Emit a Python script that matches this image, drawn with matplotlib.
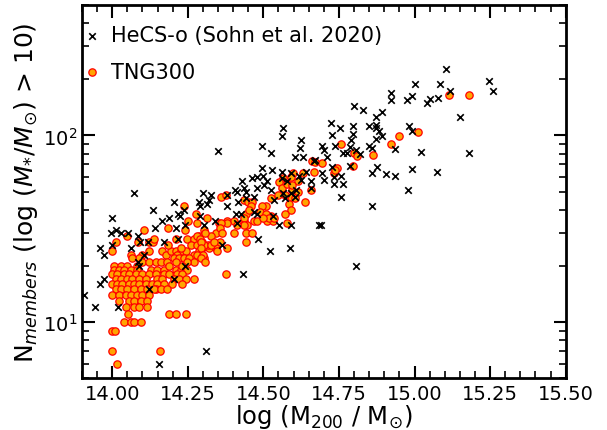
import matplotlib
matplotlib.use('Agg')
import matplotlib.pyplot as plt
from matplotlib.ticker import MultipleLocator, FormatStrFormatter

# HeCS-o clusters: log M200 and number of members
hecs_logm = [
    14.073, 14.205, 14.238, 14.288, 14.000, 14.136, 14.166, 14.189, 14.219, 14.225,
    14.242, 14.291, 14.013, 13.997, 14.030, 14.053, 14.142, 14.212, 14.086, 14.093,
    14.119, 14.172, 14.219, 13.960, 14.000, 14.063, 13.974, 14.106,
    14.086, 14.089, 14.242, 13.974, 13.960, 14.205, 13.907, 14.123, 13.944, 14.020,
    14.156, 14.311,
    14.566, 14.563, 14.626, 14.622, 14.351, 14.497, 14.526, 14.603, 14.632, 14.669,
    14.497, 14.530, 14.560, 14.593, 14.619, 14.642, 14.464, 14.480, 14.500, 14.513,
    14.560, 14.579, 14.626, 14.659, 14.430, 14.437, 14.407, 14.414, 14.480, 14.503,
    14.526, 14.566, 14.593, 14.609, 14.656, 14.301, 14.328, 14.381, 14.444, 14.470,
    14.321, 14.315, 14.291, 14.381, 14.417, 14.444, 14.536, 14.570, 14.603, 14.470,
    14.427, 14.411, 14.480, 14.533, 14.341, 14.305, 14.553, 14.593, 14.685, 14.414,
    14.483, 14.364, 14.589, 14.523, 14.434,
    15.003, 15.083, 14.921, 14.921, 14.974, 14.990, 15.040, 15.050, 15.076, 14.801,
    14.828, 14.891, 14.874, 14.725, 14.755, 14.795, 14.848, 14.874, 14.874, 14.881,
    14.795, 14.894, 14.871, 14.791, 14.728, 14.983, 14.990, 14.738, 14.695, 14.702,
    14.785, 14.851, 14.858, 14.934, 15.023, 14.762, 14.775, 14.808, 14.818, 14.712,
    14.672, 14.785, 14.877, 14.858, 14.907, 14.934, 14.993, 15.073, 14.728, 14.695,
    14.758, 14.735,
    14.702, 14.735, 14.765, 14.977, 14.758, 14.858, 14.689, 14.808,
    15.103, 15.116, 15.245, 15.258, 15.149, 15.179,
]
hecs_n = [
    49, 44, 40, 44, 36, 40, 35, 36, 38, 37,
    33, 37, 31, 30, 30, 30, 32, 32, 29, 27,
    27, 27, 28, 25, 26, 25, 23, 23,
    21, 20, 20, 17, 16, 17, 14, 15, 12, 12,
    6, 7,
    110, 99, 94, 86, 83, 88, 81, 77, 77, 73,
    67, 65, 64, 63, 61, 64, 59, 60, 61, 57,
    59, 57, 58, 57, 57, 52, 51, 50, 52, 54,
    51, 49, 49, 51, 52, 49, 48, 48, 50, 47,
    45, 43, 42, 42, 44, 46, 45, 46, 47, 39,
    38, 38, 38, 37, 35, 33, 33, 33, 33, 34,
    28, 26, 25, 24, 18,
    189, 189, 169, 155, 154, 163, 150, 157, 159, 144,
    137, 133, 126, 116, 110, 112, 113, 114, 109, 106,
    102, 99, 96, 94, 100, 113, 106, 88, 88, 84,
    87, 88, 86, 85, 82, 81, 81, 84, 80, 77,
    74, 69, 68, 63, 62, 61, 66, 64, 68, 63,
    61, 60,
    58, 55, 55, 51, 47, 42, 33, 20,
    227, 174, 196, 174, 126, 81,
]

# TNG300 haloes
tng_logm = [
    14.238, 14.361, 14.377, 14.550, 14.526, 14.437, 14.450, 14.464, 14.185, 14.242,
    14.281, 14.305, 14.344, 14.354, 14.381, 14.404, 14.437, 14.447, 14.470, 14.503,
    14.513, 14.526, 14.533, 14.013, 14.106, 14.050, 14.086, 14.123, 14.136, 14.212,
    14.248, 14.272, 14.298, 14.262, 14.281, 14.298, 14.321, 14.344, 14.000, 14.063,
    14.099, 14.123, 14.166, 14.179, 14.195, 14.212, 14.228, 14.245, 14.272, 14.288,
    14.305, 14.215, 14.205, 14.222, 14.238, 14.255, 14.272, 14.248, 14.089, 14.066,
    14.099, 14.083, 14.123, 14.146, 14.162, 14.182, 14.212, 14.007, 14.030, 14.050,
    14.007, 14.023, 14.040, 14.063, 14.083, 14.129, 14.149, 14.172, 14.189, 14.212,
    14.228, 14.232, 14.248, 14.000, 14.017, 14.040, 14.056, 14.079, 14.099, 14.123,
    14.146, 14.172, 14.189, 14.215, 14.232, 14.013, 14.030, 14.050, 14.066, 14.089,
    14.113, 14.149, 14.166, 14.205, 14.222, 14.245, 14.272, 14.000, 14.017, 14.033,
    14.056, 14.073, 14.089, 14.113, 14.132, 14.149, 14.172, 14.199, 14.232, 14.146,
    14.013, 14.030, 14.050, 14.073, 14.096, 14.116, 14.139, 14.162, 14.182, 14.000,
    14.023, 14.046, 14.063, 14.083, 14.099, 14.123, 14.023, 14.056, 14.073, 14.096,
    14.116, 14.046, 14.073, 14.089, 14.116, 14.189, 14.212, 14.245, 14.053, 14.040,
    14.063, 14.073, 14.096, 14.000, 14.010, 14.000, 14.159, 14.017,
    14.252, 14.139, 14.185, 14.228, 14.288,
    14.662, 14.672, 14.669, 14.599, 14.613, 14.593, 14.566, 14.553, 14.563, 14.579,
    14.596, 14.616, 14.593, 14.603, 14.573, 14.586, 14.593, 14.639, 14.570, 14.656,
    14.510, 14.497, 14.490, 14.510, 14.517, 14.536, 14.480, 14.500, 14.444, 14.437,
    14.437, 14.414, 14.381, 14.361, 14.358, 14.364, 14.328, 14.308, 14.281, 14.404,
    14.444, 14.444, 14.464, 14.460, 14.454, 14.318, 14.305, 14.344, 14.358, 14.278,
    14.315, 14.291,
    14.295, 14.328, 14.338, 14.381, 14.295, 14.281, 14.301, 14.348, 14.295, 14.308,
    14.377,
    14.950, 15.010, 14.921, 14.758, 14.801, 14.811, 14.861, 14.798, 14.695, 14.742,
    14.732, 14.738, 15.113, 15.179, 14.632, 14.596, 14.579,
]
tng_n = [
    42, 47, 48, 48, 46, 45, 44, 44, 32, 31,
    34, 31, 30, 34, 35, 35, 35, 33, 35, 37,
    35, 37, 35, 27, 31, 29, 27, 27, 27, 28,
    28, 28, 27, 26, 26, 25, 25, 25, 24, 23,
    23, 24, 24, 23, 24, 24, 24, 24, 23, 24,
    22, 23, 22, 22, 22, 22, 21, 21, 22, 22,
    21, 20, 21, 21, 21, 21, 21, 20, 20, 20,
    19, 19, 19, 19, 19, 19, 19, 19, 20, 19,
    19, 20, 19, 18, 18, 18, 18, 18, 18, 18,
    18, 18, 18, 18, 18, 17, 17, 17, 17, 17,
    17, 17, 17, 17, 17, 17, 17, 16, 16, 16,
    16, 16, 16, 16, 16, 16, 16, 16, 16, 15,
    15, 15, 15, 15, 15, 15, 15, 15, 15, 14,
    14, 14, 14, 14, 14, 14, 13, 13, 13, 13,
    13, 12, 12, 12, 12, 11, 11, 11, 11, 10,
    10, 10, 10, 9, 9, 7, 7, 6,
    35, 28, 26, 25, 29,
    73, 72, 64, 63, 57, 60, 59, 56, 52, 55,
    51, 50, 47, 46, 48, 43, 40, 44, 38, 51,
    42, 42, 39, 38, 36, 36, 35, 36, 38, 36,
    33, 33, 34, 34, 32, 30, 29, 30, 29, 30,
    30, 27, 30, 42, 40, 26, 26, 26, 27, 38,
    36, 28,
    27, 26, 27, 25, 25, 23, 23, 24, 22, 21,
    18,
    99, 104, 90, 90, 81, 78, 79, 69, 71, 67,
    63, 65, 165, 165, 63, 54, 34,
]

fig = plt.figure(figsize=(6.07, 4.31), dpi=100)
ax = fig.add_axes([0.135, 0.12, 0.797, 0.866])

ax.scatter(hecs_logm, hecs_n, marker='x', color='black', s=22, linewidths=1.2,
           zorder=3, label='HeCS-o (Sohn et al. 2020)')
ax.scatter(tng_logm, tng_n, marker='o', facecolor='orange', edgecolor='red',
           s=28, linewidths=0.9, zorder=2, label='TNG300')

ax.set_yscale('log')
ax.set_xlim(13.9, 15.5)
ax.set_ylim(5, 500)

ax.xaxis.set_major_locator(MultipleLocator(0.25))
ax.xaxis.set_minor_locator(MultipleLocator(0.05))
ax.xaxis.set_major_formatter(FormatStrFormatter('%.2f'))

ax.tick_params(which='both', direction='in', top=True, right=True, labelsize=14)
ax.tick_params(which='major', length=9, width=1.5)
ax.tick_params(which='minor', length=5, width=1.2)
ax.tick_params(axis='x', which='major', pad=4)
for sp in ax.spines.values():
    sp.set_linewidth(2)

ax.set_xlabel(r'log (M$_{200}$ / M$_{\odot}$)', fontsize=17.5, labelpad=-0.5)
ax.set_ylabel(r'N$_{members}$ (log ($M_{*}/M_{\odot}$) > 10)', fontsize=18, labelpad=2)

ax.legend(loc='upper left', bbox_to_anchor=(0.0, 0.957), frameon=False, fontsize=15,
          handletextpad=0.6, handlelength=0.6, borderpad=0.2, borderaxespad=0.0,
          labelspacing=0.8)

fig.savefig('out.png', dpi=100)
